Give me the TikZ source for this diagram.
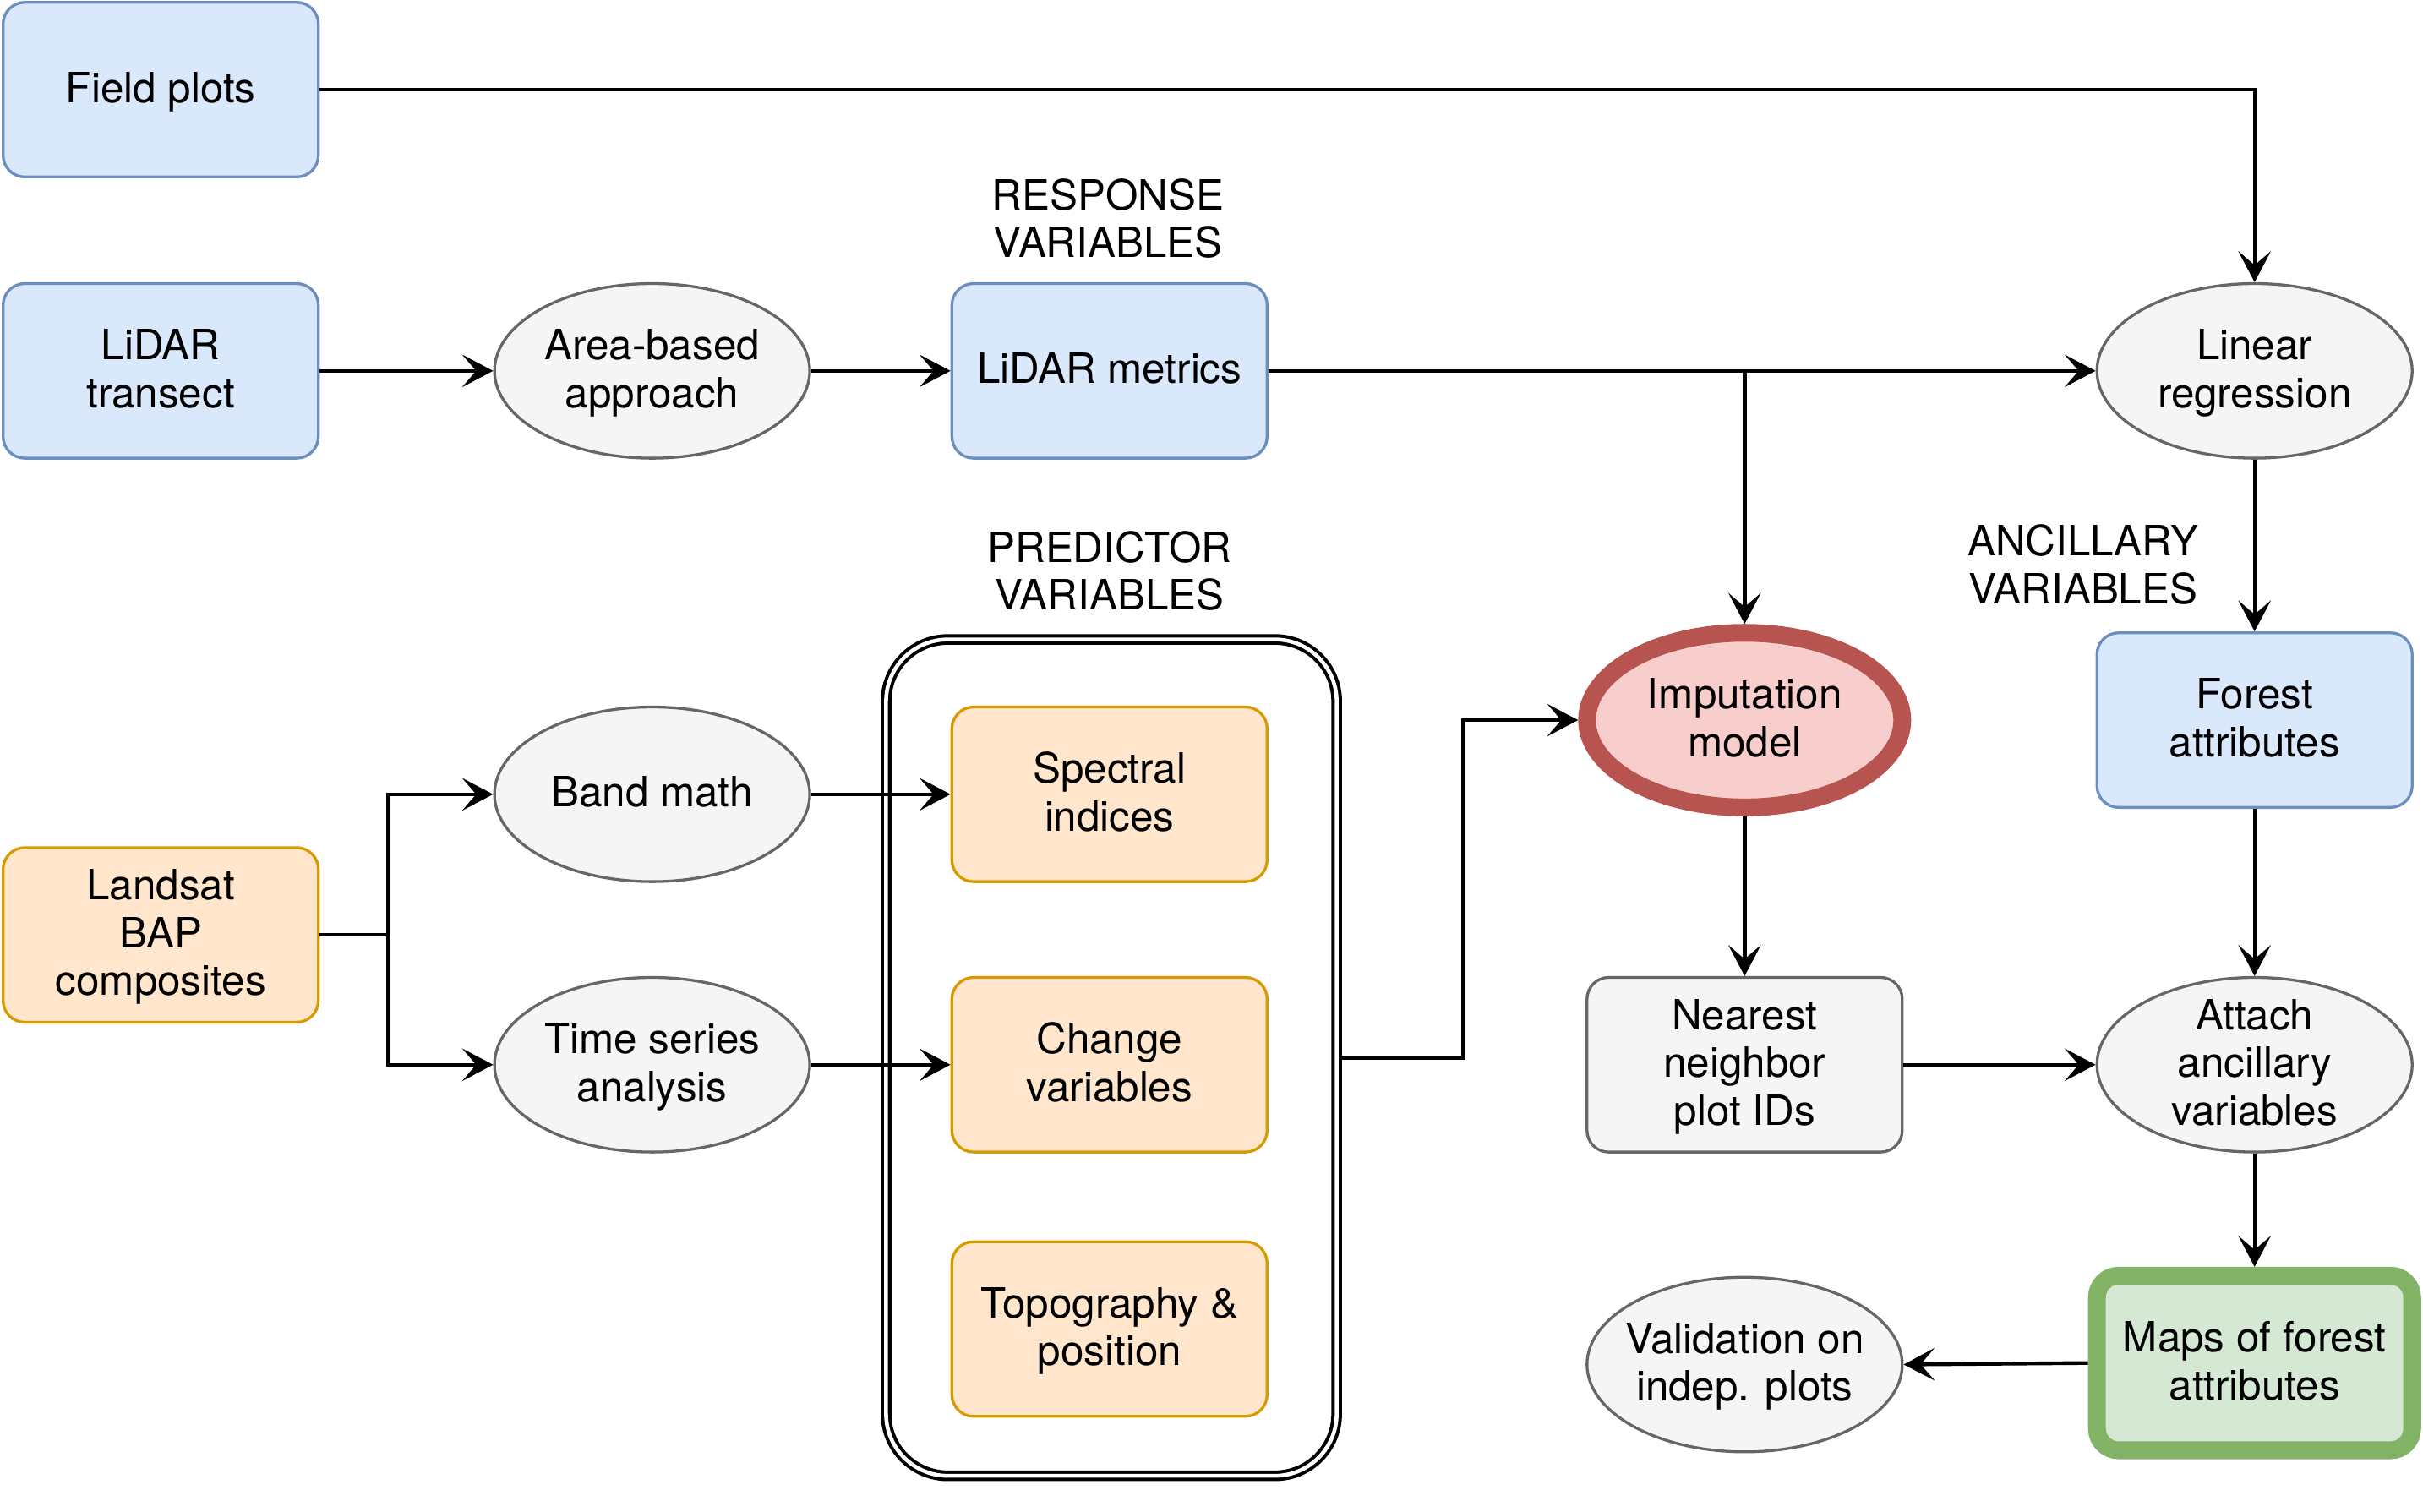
\documentclass[tikz,border=0pt]{standalone}
\usepackage{fontspec}
\setmainfont{TeX Gyre Heros}
\usetikzlibrary{arrows.meta,shapes.geometric}
\definecolor{bluefill}{HTML}{DAE8FC}
\definecolor{bluedraw}{HTML}{6C8EBF}
\definecolor{orangefill}{HTML}{FFE6CC}
\definecolor{orangedraw}{HTML}{D79B00}
\definecolor{grayfill}{HTML}{F5F5F5}
\definecolor{graydraw}{HTML}{666666}
\definecolor{redfill}{HTML}{F8CECC}
\definecolor{reddraw}{HTML}{B85450}
\definecolor{greenfill}{HTML}{D5E8D4}
\definecolor{greendraw}{HTML}{82B366}
\newcommand{\ls}{\rule[-3.65pt]{0pt}{15.5pt}}
\begin{document}
\begin{tikzpicture}[x=0.5pt,y=-0.5pt,
  font=\fontsize{13.5}{15.5}\selectfont,
  txt/.style={align=center,execute at end node=\ls},
  base/.style={txt,minimum width=102pt,minimum height=56.5pt,inner sep=0pt,line width=0.9pt},
  bluebox/.style={base,rectangle,rounded corners=7pt,fill=bluefill,draw=bluedraw},
  orangebox/.style={base,rectangle,rounded corners=7pt,fill=orangefill,draw=orangedraw},
  graybox/.style={base,rectangle,rounded corners=7pt,fill=grayfill,draw=graydraw},
  grayell/.style={base,ellipse,inner sep=-25pt,fill=grayfill,draw=graydraw},
  redell/.style={base,ellipse,inner sep=-25pt,fill=redfill,draw=reddraw,line width=5.75pt},
  greenbox/.style={base,rectangle,rounded corners=7pt,fill=greenfill,draw=greendraw,line width=5.75pt},
  container/.style={draw=black,line width=1.1pt,double=white,double distance=1.25pt,fill=white,rounded corners=20pt,inner sep=0pt},
  conn/.style={line width=1.2pt,-{Stealth[length=10pt,width=10.5pt,inset=4.5pt]}},
  plainline/.style={line width=1.2pt},
  lbl/.style={txt,inner sep=0pt}
]
\useasboundingbox (0,0) rectangle (1568,978);

% container of predictor variables
\node[container,minimum width=145.8pt,minimum height=270.6pt] (pred) at (719.2,684.4) {};

% labels
\node[lbl] (resp) at (717,143) {\ls RESPONSE\\VARIABLES};
\node[lbl] (predlbl) at (718,371) {\ls PREDICTOR\\VARIABLES};
\node[lbl] (anc) at (1348,367) {\ls ANCILLARY\\VARIABLES};

% nodes
\node[bluebox] (fp) at (104,58) {\ls Field plots};
\node[bluebox] (lidar) at (104,240) {\ls LiDAR\\transect};
\node[grayell] (aba) at (422,240) {\ls Area-based\\approach};
\node[bluebox] (metrics) at (718,240) {\ls LiDAR metrics};
\node[grayell] (linreg) at (1459,240) {\ls Linear\\regression};

\node[orangebox] (landsat) at (104,605) {\ls Landsat\\BAP\\composites};
\node[grayell] (band) at (422,514) {\ls Band math};
\node[grayell] (tsa) at (422,689) {\ls Time series\\analysis};
\node[orangebox] (spec) at (718,514) {\ls Spectral\\indices};
\node[orangebox] (change) at (718,689) {\ls Change\\variables};
\node[orangebox] (topo) at (718,860) {\ls Topography \&\\position};

\node[redell] (imp) at (1129,466) {\ls Imputation\\model};
\node[bluebox] (forest) at (1459,466) {\ls Forest\\attributes};
\node[graybox] (nn) at (1129,689) {\ls Nearest\\neighbor\\plot IDs};
\node[grayell] (attach) at (1459,689) {\ls Attach\\ancillary\\variables};
\node[greenbox] (maps) at (1459,882) {\ls Maps of forest\\attributes};
\node[grayell] (valid) at (1129,883) {\ls Validation on\\indep. plots};

% helper coordinates
\coordinate (split) at (251,605);
\coordinate (elbow) at (947,0);

% connectors
\draw[conn] (fp.east) -| (linreg.north);
\draw[conn] (lidar.east) -- (aba.west);
\draw[conn] (aba.east) -- (metrics.west);
\draw[conn] (metrics.east) -- (linreg.west);
\draw[conn] (metrics.east -| imp.north) -- (imp.north);
\draw[conn] (linreg.south) -- (forest.north);

\draw[plainline] (landsat.east) -- (split);
\draw[conn] (split) |- (band.west);
\draw[conn] (split) |- (tsa.west);
\draw[conn] (band.east) -- (spec.west);
\draw[conn] (tsa.east) -- (change.west);

\draw[conn] (pred.east) -| (elbow |- imp.west) -- (imp.west);
\draw[conn] (imp.south) -- (nn.north);
\draw[conn] (forest.south) -- (attach.north);
\draw[conn] (nn.east) -- (attach.west);
\draw[conn] (attach.south) -- (maps.north);
\draw[conn] (maps.west) -- (valid.east);
\end{tikzpicture}
\end{document}
